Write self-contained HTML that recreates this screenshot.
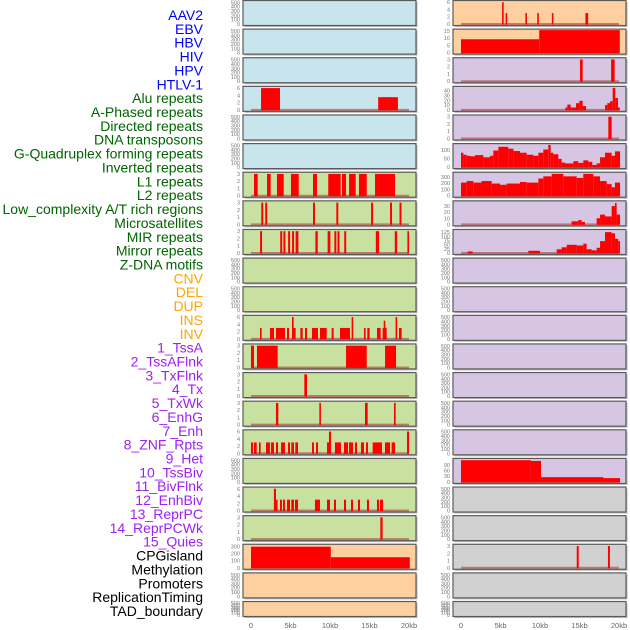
<!DOCTYPE html>
<html><head><meta charset="utf-8">
<style>
body{margin:0;background:#fff;}
svg{display:block;font-family:"Liberation Sans",sans-serif;}
</style></head>
<body>
<svg id="chart" width="630" height="630" viewBox="0 0 630 630" xmlns="http://www.w3.org/2000/svg"></svg>
<script>
// ---------- data (kb start, kb end, value) ----------
const featureLabels = ["AAV2","EBV","HBV","HIV","HPV","HTLV-1","Alu repeats","A-Phased repeats","Directed repeats","DNA transposons","G-Quadruplex forming repeats","Inverted repeats","L1 repeats","L2 repeats","Low_complexity A/T rich regions","Microsatellites","MIR repeats","Mirror repeats","Z-DNA motifs","CNV","DEL","DUP","INS","INV","1_TssA","2_TssAFlnk","3_TxFlnk","4_Tx","5_TxWk","6_EnhG","7_Enh","8_ZNF_Rpts","9_Het","10_TssBiv","11_BivFlnk","12_EnhBiv","13_ReprPC","14_ReprPCWk","15_Quies","CPGisland","Methylation","Promoters","ReplicationTiming","TAD_boundary"];
const labelGroups = [6,13,5,15,5];
const xTickValues = [0,5,10,15,20];
const xTickLabels = ["0","5kb","10kb","15kb","20kb"];

const leftAlu = [[1.27,3.67,6],[16.1,18.6,3.5]];
const leftRow6 = [[0.38,0.85,3],[2.03,2.49,3],[3.29,4.14,3],[5.06,6.04,3],[7.85,8.35,3],[9.78,11.35,3],[11.52,12.03,3],[12.41,13.25,3],[13.67,14.65,3],[15.7,18.23,3]];
const leftRow7 = [[1.3,1.55,3],[1.8,2.05,3],[7.85,8.1,3],[10.8,11.05,3],[15.2,15.45,3],[17.6,17.85,3],[18.8,19.05,3]];
const leftRow8 = [[1.15,1.4,3],[3.7,3.95,3],[4.1,4.35,3],[4.7,4.95,3],[5.2,5.45,3],[5.65,6.0,3],[8.15,8.45,3],[9.7,10.05,3],[10.55,10.8,3],[10.95,11.2,3],[11.8,12.05,3],[15.8,16.2,3],[18.2,18.5,3],[19.8,20.0,3]];
const leftRow11 = [[1.14,1.35,3],[2.4,2.91,3],[3.16,4.3,3],[4.56,4.81,3],[5.19,5.65,3],[5.19,5.4,6],[6.25,6.54,3],[6.84,7.09,3],[7.72,8.48,3],[8.73,9.58,3],[10.21,10.46,3],[11.26,12.53,3],[12.74,12.87,6],[14.3,14.51,3],[14.72,15.02,3],[15.95,16.41,3],[16.66,17.17,3],[16.8,16.9,5],[18.3,18.5,6],[18.73,19.07,3]];
const leftRow12 = [[0,0.38,3],[0.76,3.38,3],[12.03,14.65,3],[16.97,18.36,3]];
const leftRow13 = [[6.75,7.09,3]];
const leftRow14 = [[3.16,3.46,3],[8.65,8.82,3],[14.43,14.77,3],[18.1,18.31,3]];
const leftRow15 = [[0,0.25,3],[0.38,0.72,3],[1.01,1.22,3],[1.9,2.4,3],[2.53,2.91,3],[3.16,3.42,3],[3.8,4.3,3],[4.68,4.94,3],[5.1,5.44,3],[5.61,5.95,3],[7.72,7.97,3],[8.23,8.48,3],[9.62,10.13,3],[9.87,10.13,6],[10.63,11.39,3],[11.77,12.28,3],[12.41,12.91,3],[13.16,13.42,3],[13.92,14.3,3],[14.56,14.81,3],[15.4,16.58,3],[16.96,17.6,3],[17.8,18.23,3],[19.75,20.0,6]];
const leftRow17 = [[2.9,3.16,6],[3.16,3.33,3],[3.67,3.92,3],[4.05,4.3,3],[4.56,4.94,3],[5.1,5.44,3],[5.57,5.95,3],[8.1,8.73,3],[9.62,10.0,3],[10.5,10.76,3],[11.77,12.03,3],[12.66,12.91,3],[13.54,13.8,3],[14.68,14.93,3],[15.95,16.2,3],[16.33,16.71,3]];
const leftRow18 = [[16.37,16.66,3]];
const leftCpg = [[0,10.1,300],[10.1,20.1,150]];

const rightAav = [[5.2,5.4,6],[5.65,5.85,3],[8.15,8.35,3],[9.65,9.85,3],[11.5,11.7,3],[15.75,16.1,3]];
const rightEbv = [[0,9.9,9.2],[9.9,20.1,15.5]];
const rightRow2 = [[15.06,15.4,3],[19.0,19.45,3]];
const rightRow3 = [[13.21,13.46,5],[13.46,13.88,11],[13.88,14.56,5],[14.56,14.98,14],[14.98,15.4,19],[15.4,15.83,8],[18.23,18.52,10],[18.52,18.86,14],[18.86,19.2,18],[19.2,19.53,46],[19.53,19.87,25],[19.87,20.1,5]];
const rightRow4 = [[18.65,19.07,3]];
const gquadEdges = [0,0.3,0.72,1.14,1.77,2.83,3.67,4.09,4.73,5.99,6.63,7.47,8.31,9.16,9.79,10.42,11.05,11.35,11.69,12.32,12.74,13.16,14.22,14.85,15.48,16.12,16.62,17.17,17.6,18.23,19.07,19.49,20.13];
const gquadValues = [85,73,67,64,71,58,67,98,120,109,95,85,73,67,85,104,131,85,76,49,27,22,35,25,40,31,13,22,58,85,67,93];
const invEdges = [0,0.72,1.56,2.6,3.88,4.94,5.78,7.47,8.31,9.79,10.42,11.48,12.95,14.64,15.48,16.75,17.6,18.44,19.07,19.49,20.13];
const invValues = [210,235,210,235,195,175,195,220,210,275,310,350,310,285,350,310,235,185,135,210];
const l1Edges = [14.0,14.85,15.27,15.69,17.17,17.6,18.23,19.07,19.49,19.7,20.13];
const l1Values = [5,7,4,0,10,16,13,30,35,16];
const mirEdges = [0.84,1.48,8.52,10.0,12.11,12.74,13.38,14.64,15.48,15.9,16.54,17.17,17.6,18.23,19.07,19.49,19.91,20.13];
const mirValues = [9,0,13,0,22,34,49,45,56,22,16,31,71,125,118,85,71];
const rightRow16 = [[0,8.85,114],[8.85,10.13,110],[10.13,18.02,25],[18.02,20.13,20]];
const rightRow19 = [[14.65,14.9,3],[18.6,18.85,3]];

// ---------- layout ----------
const svg = document.getElementById('chart');
const NS = 'http://www.w3.org/2000/svg';
const BG = {blue:'#c8e4ec', green:'#c8e1a0', orange:'#fecf9f', purple:'#d6c6e3', grey:'#d1d1d1'};
function steps(edges, vals){const out=[];for(let i=0;i<vals.length;i++){if(vals[i]>0)out.push([edges[i],edges[i+1],vals[i]]);}return out;}
const leftPanels = [
 {bg:'blue',ymax:520,ticks:[0,100,200,300,400,500]},
 {bg:'blue',ymax:520,ticks:[0,100,200,300,400,500]},
 {bg:'blue',ymax:520,ticks:[0,100,200,300,400,500]},
 {bg:'blue',ymax:6.2,ticks:[0,2,4,6],data:leftAlu},
 {bg:'blue',ymax:520,ticks:[0,100,200,300,400,500]},
 {bg:'blue',ymax:520,ticks:[0,100,200,300,400,500]},
 {bg:'green',ymax:3.1,ticks:[0,1,2,3],data:leftRow6},
 {bg:'green',ymax:3.1,ticks:[0,1,2,3],data:leftRow7},
 {bg:'green',ymax:3.1,ticks:[0,1,2,3],data:leftRow8},
 {bg:'green',ymax:520,ticks:[0,100,200,300,400,500]},
 {bg:'green',ymax:520,ticks:[0,100,200,300,400,500]},
 {bg:'green',ymax:6.2,ticks:[0,2,4,6],data:leftRow11},
 {bg:'green',ymax:3.1,ticks:[0,1,2,3],data:leftRow12},
 {bg:'green',ymax:3.1,ticks:[0,1,2,3],data:leftRow13},
 {bg:'green',ymax:3.1,ticks:[0,1,2,3],data:leftRow14},
 {bg:'green',ymax:6.2,ticks:[0,2,4,6],data:leftRow15},
 {bg:'green',ymax:520,ticks:[0,100,200,300,400,500]},
 {bg:'green',ymax:6.2,ticks:[0,2,4,6],data:leftRow17},
 {bg:'green',ymax:3.1,ticks:[0,1,2,3],data:leftRow18},
 {bg:'orange',ymax:320,ticks:[0,100,200,300],data:leftCpg},
 {bg:'orange',ymax:520,ticks:[0,100,200,300,400,500]},
 {bg:'orange',ymax:520,ticks:[0,100,200,300,400,500]}
];
const E = {ymax:520,ticks:[0,100,200,300,400,500]};
const rightPanels = [
 {bg:'orange',ymax:6.2,ticks:[0,2,4,6],data:rightAav},
 {bg:'orange',ymax:15.5,ticks:[0,5,10,15],data:rightEbv},
 {bg:'purple',ymax:3.1,ticks:[0,1,2,3],data:rightRow2},
 {bg:'purple',ymax:47,ticks:[0,10,20,30,40],data:rightRow3},
 {bg:'purple',ymax:3.1,ticks:[0,1,2,3],data:rightRow4},
 {bg:'purple',ymax:133,ticks:[0,50,100],data:steps(gquadEdges,gquadValues)},
 {bg:'purple',ymax:360,ticks:[0,100,200,300],data:steps(invEdges,invValues)},
 {bg:'purple',ymax:37,ticks:[0,10,20,30],data:steps(l1Edges,l1Values)},
 {bg:'purple',ymax:135,ticks:[0,25,50,75,100,125],data:steps(mirEdges,mirValues)},
 Object.assign({bg:'purple'},E),Object.assign({bg:'purple'},E),Object.assign({bg:'purple'},E),
 Object.assign({bg:'purple'},E),Object.assign({bg:'purple'},E),Object.assign({bg:'purple'},E),
 Object.assign({bg:'purple'},E),
 {bg:'purple',ymax:118,ticks:[0,30,60,90],data:rightRow16},
 Object.assign({bg:'grey'},E),Object.assign({bg:'grey'},E),
 {bg:'grey',ymax:3.1,ticks:[0,1,2,3],data:rightRow19},
 Object.assign({bg:'grey'},E),Object.assign({bg:'grey'},E)
];

function mk(tag, attrs){const el=document.createElementNS(NS,tag);for(const k in attrs)el.setAttribute(k,attrs[k]);svg.appendChild(el);return el;}

function drawPanel(p, i, col){
  const px = col===0 ? 243 : 453;
  const pw = 173;
  const top = 0.5 + i*28.62;
  const h = i===21 ? 15 : 25;
  const x = kb => px + 8 + kb/20*158;
  const y0 = top + h - 1.5;
  const y = v => y0 - Math.min(v,p.ymax)/p.ymax*(h-2.5);
  const sh = mk('rect',{x:px+1.5,y:top+1.5,width:pw,height:h,fill:'#bbb'});
  
  
  const bg = mk('rect',{x:px,y:top,width:pw,height:h,fill:BG[p.bg],stroke:'#5a5a5a','stroke-width':1.2});
  
  
  if(p.data){
    const base = mk('line',{x1:x(0),x2:x(20),y1:y0,y2:y0,stroke:'rgba(170,60,60,0.6)','stroke-width':2});
    
    
    p.data.forEach(d=>{
      const w = Math.max(x(d[1])-x(d[0]),1.6);
      const r = mk('rect',{x:x(d[0]),y:y(d[2]),width:w,height:y0-y(d[2])+0.5,fill:'#ff0000'});
      
      
    });
  }
  p.ticks.forEach(t=>{
    const tx = mk('text',{x:px-3,y:y(t)+2,'text-anchor':'end','font-size':5.5,fill:'#777'});
    tx.textContent = t;
    
    
  });
  if(i===21){
    xTickValues.forEach((v,k)=>{
      const tx = mk('text',{x:x(v),y:628,'text-anchor':'middle','font-size':7.5,fill:'#666'});
      tx.textContent = xTickLabels[k];
      
      
    });
  }
}
leftPanels.forEach((p,i)=>drawPanel(p,i,0));
rightPanels.forEach((p,i)=>drawPanel(p,i,1));

const groupColors = ['#0000ff','#006400','#ffa500','#a020f0','#000000'];
let gi=0, cnt=0;
featureLabels.forEach((lab,i)=>{
  while(cnt>=labelGroups[gi]){cnt=0;gi++;}
  cnt++;
  const t = mk('text',{x:203,y:20+i*13.86,'text-anchor':'end','font-size':14,fill:groupColors[gi]});
  t.textContent = lab;
  
  
});
</script>
</body></html>
